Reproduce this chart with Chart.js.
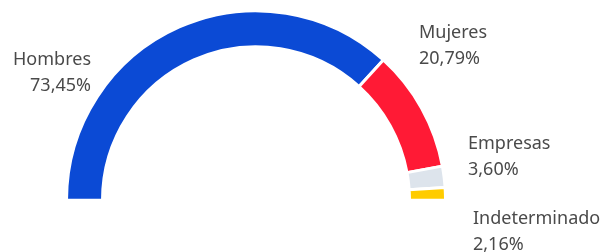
<!DOCTYPE html>
<html>
<head>
<meta charset="utf-8">
<script src="https://cdn.jsdelivr.net/npm/chart.js@4/dist/chart.umd.min.js"></script>
<style>
  html, body { margin: 0; padding: 0; background: #fff; }
  #wrap { width: 606px; height: 252px; position: relative; }
</style>
</head>
<body>
<div id="wrap"><canvas id="chart"></canvas></div>
<script>
var categories = ['Hombres', 'Mujeres', 'Empresas', 'Indeterminado'];
var values = [73.45, 20.79, 3.60, 2.16];
var valueLabels = ['73,45%', '20,79%', '3,60%', '2,16%'];
var colors = ['#0b4ad5', '#ff1a35', '#dde4ec', '#ffcc00'];

// label anchors relative to the arc centre: [dx, dy, align]
var labelPlaces = [
    [-165, -135, 'right'],
    [163, -162, 'left'],
    [212, -51, 'left'],
    [217, 24, 'left']
];

var labelPlugin = {
    id: 'sliceLabels',
    afterDatasetsDraw: function (chart) {
        var ctx = chart.ctx;
        var meta = chart.getDatasetMeta(0);
        ctx.save();
        ctx.font = '18px "Noto Sans"';
        ctx.fillStyle = '#4a4a4a';
        ctx.textBaseline = 'alphabetic';
        meta.data.forEach(function (arc, i) {
            var p = labelPlaces[i];
            ctx.textAlign = p[2];
            var x = arc.x + p[0];
            var y = arc.y + p[1];
            ctx.fillText(categories[i], x, y);
            ctx.fillText(valueLabels[i], x, y + 26);
        });
        ctx.restore();
    }
};

new Chart(document.getElementById('chart'), {
    type: 'doughnut',
    data: {
        labels: categories,
        datasets: [{
            data: values,
            backgroundColor: colors,
            hoverBackgroundColor: colors,
            borderColor: '#fff',
            borderWidth: 3
        }]
    },
    options: {
        responsive: true,
        maintainAspectRatio: false,
        animation: false,
        rotation: -90,
        circumference: 180,
        cutout: '81%',
        layout: {
            padding: { left: 65, right: 159, top: 9, bottom: 50 }
        },
        plugins: {
            legend: { display: false },
            tooltip: { enabled: false }
        }
    },
    plugins: [labelPlugin]
});
</script>
</body>
</html>
